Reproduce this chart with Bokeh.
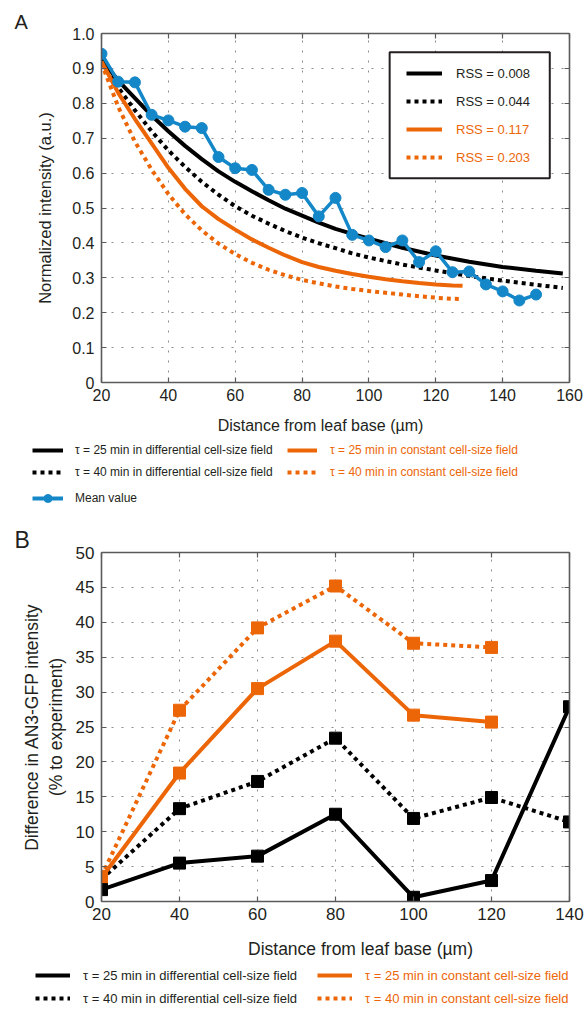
import math
from bokeh.plotting import figure
from bokeh.models import (Range1d, LinearAxis, FixedTicker, Legend, LegendItem,
                          BoxAnnotation, Label)
from bokeh.layouts import column
from bokeh.embed import file_html
from bokeh.resources import INLINE

FONT = "Liberation Sans"
BLACK = "#000000"
TEXT = "#231f20"
ORANGE = "#ec6608"
BLUE = "#1487c8"
AXIS = "#5a5a5c"
GRID = "#8c8c8c"
W = 585
NAN = float("nan")

# ---------------- Panel A data ----------------
mean_x = [20, 25, 30, 35, 40, 45, 50, 55, 60, 65, 70, 75, 80, 85, 90, 95, 100,
          105, 110, 115, 120, 125, 130, 135, 140, 145, 150]
mean_y = [0.942, 0.862, 0.860, 0.767, 0.751, 0.733, 0.729, 0.646, 0.614, 0.609,
          0.552, 0.538, 0.543, 0.476, 0.529, 0.423, 0.407, 0.388, 0.407, 0.345,
          0.376, 0.316, 0.318, 0.281, 0.261, 0.235, 0.252]

diff_x = [20, 25, 30, 35, 40, 45, 50, 55, 60, 65, 70, 75, 80, 85, 90, 95, 100,
          110, 120, 130, 140, 150, 158]
diff25_y = [0.925, 0.865, 0.815, 0.765, 0.720, 0.678, 0.640, 0.605, 0.575, 0.548,
            0.522, 0.498, 0.478, 0.458, 0.440, 0.426, 0.412, 0.386, 0.364, 0.346,
            0.331, 0.320, 0.312]
diff40_y = [0.915, 0.845, 0.780, 0.720, 0.665, 0.618, 0.575, 0.538, 0.505, 0.478,
            0.455, 0.434, 0.415, 0.399, 0.385, 0.370, 0.358, 0.338, 0.321, 0.305,
            0.292, 0.280, 0.271]

const_x = [20, 25, 30, 35, 40, 45, 50, 55, 60, 65, 70, 75, 80, 85, 90, 95, 100,
           105, 110, 115, 120, 125, 128]
const25_y = [0.920, 0.830, 0.755, 0.685, 0.615, 0.555, 0.505, 0.468, 0.438, 0.410,
             0.386, 0.364, 0.345, 0.331, 0.320, 0.311, 0.303, 0.296, 0.290, 0.285,
             0.281, 0.278, 0.277]
const40_y = [0.915, 0.790, 0.690, 0.610, 0.540, 0.482, 0.436, 0.398, 0.368, 0.343,
             0.323, 0.307, 0.294, 0.284, 0.275, 0.268, 0.262, 0.257, 0.252, 0.247,
             0.243, 0.240, 0.239]

a_xticks = [20, 40, 60, 80, 100, 120, 140, 160]
a_yticks = [0, 0.1, 0.2, 0.3, 0.4, 0.5, 0.6, 0.7, 0.8, 0.9, 1.0]

rss_labels = ["RSS = 0.008", "RSS = 0.044", "RSS = 0.117", "RSS = 0.203"]
series_labels = ["τ = 25 min in differential cell-size field",
                 "τ = 40 min in differential cell-size field",
                 "τ = 25 min in constant cell-size field",
                 "τ = 40 min in constant cell-size field"]
mean_label = "Mean value"
x_title = "Distance from leaf base (µm)"
a_y_title = "Normalized intensity (a.u.)"
b_y_title = "Difference in AN3-GFP intensity\n(% to experiment)"

# ---------------- Panel B data ----------------
b_x = [20, 40, 60, 80, 100, 120, 140]
b_diff25 = [1.7, 5.5, 6.5, 12.5, 0.6, 3.0, 27.9]
b_diff40 = [3.2, 13.3, 17.2, 23.4, 11.9, 14.9, 11.4]
b_const_x = [20, 40, 60, 80, 100, 120]
b_const25 = [3.4, 18.4, 30.5, 37.3, 26.7, 25.7]
b_const40 = [3.6, 27.4, 39.2, 45.2, 37.0, 36.4]

b_xticks = [20, 40, 60, 80, 100, 120, 140]
b_yticks = [0, 5, 10, 15, 20, 25, 30, 35, 40, 45, 50]

# line styles of the four model series (solid / dotted, black / orange)
STYLES = [dict(line_color=BLACK, line_width=4),
          dict(line_color=BLACK, line_width=4, line_dash="4 4"),
          dict(line_color=ORANGE, line_width=4),
          dict(line_color=ORANGE, line_width=4, line_dash="4 4")]


def base_fig(height, xr, yr, top, bottom, xticks, yticks, tick_size, letter,
             letter_size, letter_standoff):
    p = figure(width=W, height=height, x_range=Range1d(*xr), y_range=Range1d(*yr),
               output_backend="svg", toolbar_location=None, title=letter,
               min_border_left=101, min_border_right=16,
               min_border_top=top, min_border_bottom=bottom, frame_align=False)
    p.title.align = "left"
    p.title.offset = -87
    p.title.standoff = letter_standoff
    p.title.text_font = FONT
    p.title.text_font_size = letter_size
    p.title.text_font_style = "normal"
    p.title.text_color = TEXT
    p.outline_line_color = None
    p.background_fill_color = "white"
    p.border_fill_color = "white"
    top_ax = LinearAxis()
    right_ax = LinearAxis()
    p.add_layout(top_ax, "above")
    p.add_layout(right_ax, "right")
    xaxes = [p.below[0], top_ax]
    yaxes = [p.left[0], right_ax]
    for ax in xaxes:
        ax.ticker = FixedTicker(ticks=xticks)
    for ax in yaxes:
        ax.ticker = FixedTicker(ticks=yticks)
    for ax in xaxes + yaxes:
        ax.axis_line_color = AXIS
        ax.axis_line_width = 1.6
        ax.major_tick_line_color = AXIS
        ax.major_tick_line_width = 1.2
        ax.major_tick_in = 5
        ax.major_tick_out = 0
        ax.minor_tick_line_color = None
        ax.major_label_text_font = FONT
        ax.major_label_text_font_size = tick_size
        ax.major_label_text_color = TEXT
        ax.major_label_standoff = 7
    for ax in [top_ax, right_ax]:
        ax.major_label_text_font_size = "0px"
        ax.major_label_text_alpha = 0
        ax.major_label_standoff = 0
    p.below[0].major_label_standoff = 6
    p.xgrid.ticker = FixedTicker(ticks=xticks)
    p.ygrid.ticker = FixedTicker(ticks=yticks)
    p.grid.grid_line_color = GRID
    p.grid.grid_line_width = 1
    p.grid.grid_line_dash = "2 8"
    return p


def holder(height):
    f = figure(width=W, height=height, x_range=Range1d(0, W), y_range=Range1d(height, 0),
               x_axis_type=None, y_axis_type=None, output_backend="svg",
               toolbar_location=None, min_border=0, frame_align=False)
    f.outline_line_color = None
    f.background_fill_color = "white"
    f.border_fill_color = "white"
    return f


def legend(items, loc, gw, standoff, size, color, spacing):
    return Legend(items=items, location=loc, orientation="vertical",
                  background_fill_alpha=0, border_line_color=None,
                  padding=0, margin=0, spacing=spacing,
                  glyph_width=gw, glyph_height=20, label_height=20,
                  label_standoff=standoff, label_text_font=FONT,
                  label_text_font_size=size, label_text_color=color)


def keys(f):
    # renderers with no drawable data: they only provide the legend samples
    return [f.line([NAN], [NAN], **s) for s in STYLES]


# ---------------- Panel A ----------------
pA = base_fig(410, (20, 160), (0, 1), 33, 28, a_xticks, a_yticks, "16px",
              "A", "20px", 1)
pA.left[0].major_label_overrides = {0: "0", 1: "1.0"}
pA.left[0].axis_label = a_y_title
pA.left[0].axis_label_text_font = FONT
pA.left[0].axis_label_text_font_size = "16.5px"
pA.left[0].axis_label_text_font_style = "normal"
pA.left[0].axis_label_text_color = TEXT
pA.left[0].axis_label_standoff = 15

rA1 = pA.line(diff_x, diff25_y, **STYLES[0])
rA2 = pA.line(diff_x, diff40_y, **STYLES[1])
rA3 = pA.line(const_x, const25_y, **STYLES[2])
rA4 = pA.line(const_x, const40_y, **STYLES[3])
rM1 = pA.line(mean_x, mean_y, line_color=BLUE, line_width=3.5)
rM2 = pA.scatter(mean_x, mean_y, marker="circle", size=11, fill_color=BLUE,
                 line_color=BLUE)

box = BoxAnnotation(left=106.2, right=154.1, bottom=0.585, top=0.946,
                    fill_color="white", fill_alpha=1.0,
                    line_color=TEXT, line_alpha=1.0, line_width=2)
pA.add_layout(box)
pA.add_layout(legend([LegendItem(label=rss_labels[0], renderers=[rA1]),
                      LegendItem(label=rss_labels[1], renderers=[rA2])],
                     (305, 271), 36, 14, "13px", TEXT, 8), "center")
pA.add_layout(legend([LegendItem(label=rss_labels[2], renderers=[rA3]),
                      LegendItem(label=rss_labels[3], renderers=[rA4])],
                     (305, 215), 36, 14, "13px", ORANGE, 8), "center")

# legend / x-title strip under panel A
legA = holder(105)
kA = keys(legA)
kM1 = legA.line([NAN], [NAN], line_color=BLUE, line_width=4)
kM2 = legA.scatter([NAN], [NAN], marker="circle", size=12, fill_color=BLUE,
                   line_color=BLUE)
legA.add_layout(Label(x=320, y=15, text=x_title, text_font=FONT,
                      text_font_size="16px", text_color=TEXT,
                      text_align="center", text_baseline="alphabetic"))
legA.add_layout(legend([LegendItem(label=series_labels[0], renderers=[kA[0]]),
                        LegendItem(label=series_labels[1], renderers=[kA[1]])],
                       (32, 33), 31, 12, "12px", TEXT, 2), "center")
legA.add_layout(legend([LegendItem(label=mean_label, renderers=[kM1, kM2])],
                       (32, 7), 31, 12, "12px", TEXT, 2), "center")
legA.add_layout(legend([LegendItem(label=series_labels[2], renderers=[kA[2]]),
                        LegendItem(label=series_labels[3], renderers=[kA[3]])],
                       (287, 33), 30, 13, "12px", ORANGE, 2), "center")

# ---------------- Panel B ----------------
pB = base_fig(415, (20, 140), (0, 50), 37, 29, b_xticks, b_yticks, "17px",
              "B", "23px", 0)
pB.left[0].axis_label = b_y_title
pB.left[0].axis_label_text_font = FONT
pB.left[0].axis_label_text_font_size = "17.5px"
pB.left[0].axis_label_text_font_style = "normal"
pB.left[0].axis_label_text_color = TEXT
pB.left[0].axis_label_standoff = 7

pB.line(b_x, b_diff40, **STYLES[1])
pB.scatter(b_x, b_diff40, marker="square", size=12, fill_color=BLACK, line_color=BLACK)
pB.line(b_const_x, b_const40, **STYLES[3])
pB.scatter(b_const_x, b_const40, marker="square", size=12, fill_color=ORANGE, line_color=ORANGE)
pB.line(b_const_x, b_const25, **STYLES[2])
pB.scatter(b_const_x, b_const25, marker="square", size=12, fill_color=ORANGE, line_color=ORANGE)
pB.line(b_x, b_diff25, **STYLES[0])
pB.scatter(b_x, b_diff25, marker="square", size=12, fill_color=BLACK, line_color=BLACK)

legB = holder(78)
kB = keys(legB)
legB.add_layout(Label(x=360, y=18, text=x_title, text_font=FONT,
                      text_font_size="17.5px", text_color=TEXT,
                      text_align="center", text_baseline="alphabetic"))
legB.add_layout(legend([LegendItem(label=series_labels[0], renderers=[kB[0]]),
                        LegendItem(label=series_labels[1], renderers=[kB[1]])],
                       (35, 0), 35, 13, "13px", TEXT, 3), "center")
legB.add_layout(legend([LegendItem(label=series_labels[2], renderers=[kB[2]]),
                        LegendItem(label=series_labels[3], renderers=[kB[3]])],
                       (317, 0), 35, 13, "13px", ORANGE, 3), "center")

layout = column(pA, legA, pB, legB)
open("out.html", "w").write(file_html(layout, INLINE))
